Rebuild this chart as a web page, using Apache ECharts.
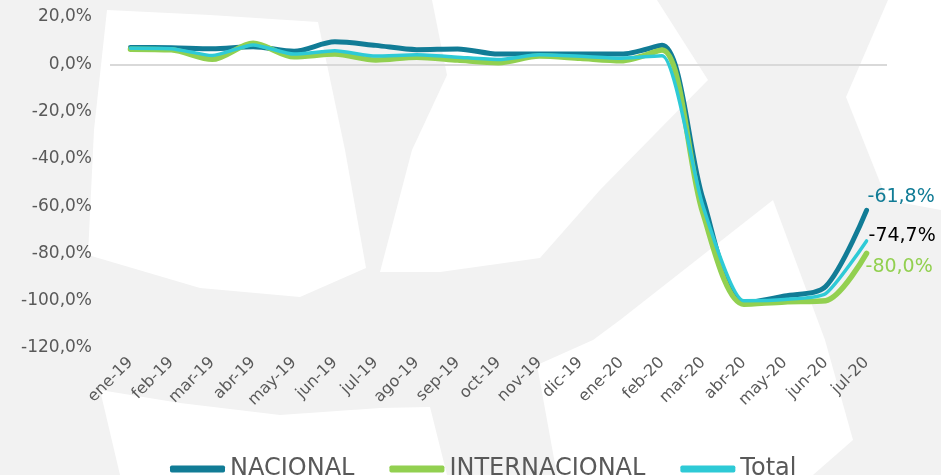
<!DOCTYPE html>
<html>
<head>
<meta charset="utf-8">
<script src="https://cdn.jsdelivr.net/npm/echarts@6/dist/echarts.min.js"></script>
<style>
  html, body { margin: 0; padding: 0; background: #f2f2f2; }
  #chart { width: 941px; height: 475px; }
</style>
</head>
<body>
<div id="chart"></div>
<script>
// meses
const categories = ['ene-19', 'feb-19', 'mar-19', 'abr-19', 'may-19', 'jun-19', 'jul-19', 'ago-19', 'sep-19', 'oct-19',
  'nov-19', 'dic-19', 'ene-20', 'feb-20', 'mar-20', 'abr-20', 'may-20', 'jun-20', 'jul-20'];

// variación interanual (%)
const nacional = [7.1, 7.0, 6.6, 7.4, 5.5, 9.5, 8.0, 6.2, 6.5, 4.3, 4.3, 4.4, 4.3, 8.0, -57.0, -101.0, -98.0, -94.0, -61.8];
const internacional = [6.4, 6.1, 2.1, 8.9, 3.2, 4.3, 1.8, 3.0, 1.8, 0.7, 3.5, 2.5, 1.5, 6.0, -63.0, -101.5, -100.5, -100.0, -80.0];
const total = [6.8, 6.6, 3.7, 8.2, 4.3, 5.7, 3.5, 4.0, 3.0, 2.0, 4.0, 3.4, 2.6, 3.6, -60.0, -100.0, -99.5, -97.0, -74.7];

const yTicks = { min: -120, max: 20, step: 20 };

const FONT = 'DejaVu Sans';
const GREY = '#595959';

function pct(v) {
  return v.toFixed(1).replace('.', ',') + '%';
}

// logo de fondo (zonas blancas sobre gris)
const bgShapes = [
  [[107, 10], [210, 15], [318, 22], [345, 150], [366, 268], [300, 297], [200, 288], [88, 255], [94, 130]],
  [[432, 0], [657, 0], [708, 80], [600, 190], [540, 258], [440, 272], [380, 272], [412, 150], [447, 75]],
  [[888, 0], [941, 0], [941, 210], [887, 200], [846, 97]],
  [[100, 390], [180, 403], [280, 415], [380, 408], [430, 407], [447, 475], [120, 475]],
  [[773, 200], [825, 340], [853, 440], [813, 475], [557, 475], [537, 365], [593, 340], [620, 320]]
];

const chart = echarts.init(document.getElementById('chart'));

const option = {
  backgroundColor: '#f2f2f2',
  animation: false,
  graphic: bgShapes.map(pts => ({
    type: 'polygon',
    z: -10,
    silent: true,
    shape: { points: pts },
    style: { fill: '#ffffff' }
  })),
  grid: { left: 110, right: 54, top: 17, bottom: 127 },
  legend: {
    left: 165,
    top: 452,
    itemWidth: 55,
    itemHeight: 7,
    itemGap: 35,
    icon: 'roundRect',
    textStyle: { fontFamily: FONT, fontSize: 24, color: GREY }
  },
  xAxis: {
    type: 'category',
    data: categories,
    boundaryGap: true,
    axisLine: { show: false },
    axisTick: { show: false },
    axisLabel: { rotate: 45, margin: 12, fontFamily: FONT, fontSize: 16, color: GREY, interval: 0 }
  },
  yAxis: {
    type: 'value',
    min: yTicks.min,
    max: yTicks.max,
    interval: yTicks.step,
    axisLine: { show: false },
    axisTick: { show: false },
    axisLabel: { margin: 18, fontFamily: FONT, fontSize: 17, color: GREY, formatter: pct },
    splitLine: {
      lineStyle: {
        width: 2,
        // solo la línea del 0
        color: ['transparent', 'transparent', 'transparent', 'transparent', 'transparent', 'transparent', '#d9d9d9', 'transparent']
      }
    }
  },
  series: [
    {
      name: 'NACIONAL',
      type: 'line',
      data: nacional,
      smooth: 0.3,
      showSymbol: false,
      color: '#117c96',
      lineStyle: { width: 5, cap: 'round' },
      endLabel: {
        show: true,
        formatter: p => pct(p.value),
        offset: [-7, -13],
        fontFamily: FONT, fontSize: 19, color: '#117c96'
      }
    },
    {
      name: 'INTERNACIONAL',
      type: 'line',
      data: internacional,
      smooth: 0.3,
      showSymbol: false,
      color: '#92d050',
      lineStyle: { width: 5.5, cap: 'round' },
      endLabel: {
        show: true,
        formatter: p => pct(p.value),
        offset: [-9, 14],
        fontFamily: FONT, fontSize: 19, color: '#92d050'
      }
    },
    {
      name: 'Total',
      type: 'line',
      data: total,
      smooth: 0.2,
      showSymbol: false,
      color: '#2ecad6',
      lineStyle: { width: 3.5, cap: 'round' },
      endLabel: {
        show: true,
        formatter: p => pct(p.value),
        offset: [-6, -5],
        fontFamily: FONT, fontSize: 19, color: '#000000'
      }
    }
  ]
};

chart.setOption(option);
</script>
</body>
</html>
